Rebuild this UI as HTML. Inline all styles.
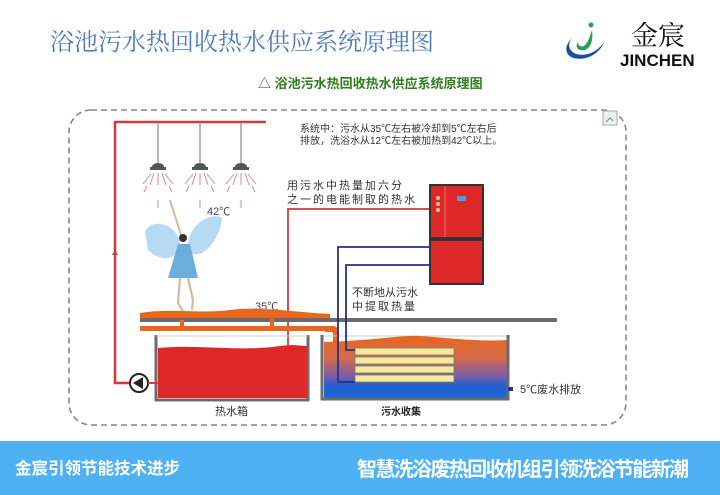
<!DOCTYPE html>
<html><head><meta charset="utf-8"><style>
html,body{margin:0;padding:0;background:#fff;}
body{width:720px;height:495px;overflow:hidden;position:relative;font-family:"Liberation Sans","Noto Sans CJK SC",sans-serif;}
svg{position:absolute;left:0;top:0;}
</style></head><body>
<svg width="720" height="495" viewBox="0 0 720 495" xmlns="http://www.w3.org/2000/svg">
<defs>
<linearGradient id="sw" x1="0" y1="0" x2="0" y2="1">
<stop offset="0" stop-color="#e8661e"/><stop offset="0.35" stop-color="#d66a4a"/><stop offset="0.65" stop-color="#7a5fa8"/><stop offset="0.8" stop-color="#1f5fd0"/><stop offset="1" stop-color="#1a6ad8"/>
</linearGradient>
</defs>
<text x="50" y="50" font-family="Liberation Serif,Noto Serif CJK SC,serif" font-size="24" fill="#4f7cbf">浴池污水热回收热水供应系统原理图</text>
<text x="258" y="88" font-size="13" font-weight="bold" fill="#2f7d1f">△ 浴池污水热回收热水供应系统原理图</text>
<!-- logo -->
<path d="M592 30 C594 44 588 52 580 50 C576 49 576 45 578 42 C578 46 582 48 585 45 C589 41 590 35 592 30Z" fill="#2aa050"/>
<circle cx="591" cy="25" r="2.5" fill="#2aa050"/>
<path d="M572 38 C560 50 568 62 586 58 C596 55 602 48 604 42 C598 52 584 58 574 53 C568 49 568 43 572 38Z" fill="#1a4fa0"/>
<text x="631" y="45" font-family="Liberation Serif,Noto Serif CJK SC,serif" font-size="27" fill="#111">金宸</text>
<text x="620" y="66" font-size="17" font-weight="bold" fill="#111">JINCHEN</text>
<rect x="69" y="110" width="557" height="315" rx="22" fill="none" stroke="#888" stroke-width="1.6" stroke-dasharray="6,4"/>
<rect x="603" y="111" width="14" height="14" fill="#eee" stroke="#aaa" stroke-width="1"/>
<path d="M606 122 l4-4 l3 3" stroke="#4a9" fill="none"/>
<polyline points="266,122 115,122 115,383 130,383" fill="none" stroke="#d23a3a" stroke-width="2.5"/>
<path d="M115 250 l-3 5 h6z" fill="#d23a3a"/>
<g stroke="#888" stroke-width="1.2">
<line x1="158" y1="122" x2="158" y2="163"/><line x1="200" y1="122" x2="200" y2="163"/><line x1="241" y1="122" x2="241" y2="163"/>
</g>
<g fill="#555">
<path d="M152 167 a6 4 0 0 1 12 0z"/><rect x="150" y="167" width="16" height="3"/>
<path d="M194 167 a6 4 0 0 1 12 0z"/><rect x="192" y="167" width="16" height="3"/>
<path d="M235 167 a6 4 0 0 1 12 0z"/><rect x="233" y="167" width="16" height="3"/>
</g>
<g stroke="#e08a8a" stroke-width="1">
<path d="M158 173v12M154 173l-4 12M162 173l4 12M151 174l-8 10M165 174l8 10M147 186l-3 6M169 186l3 6M158 200v8"/>
<path d="M200 173v12M196 173l-4 12M204 173l4 12M193 174l-8 10M207 174l8 10M189 186l-3 6M211 186l3 6M200 200v8"/>
<path d="M241 173v12M237 173l-4 12M245 173l4 12M234 174l-8 10M248 174l8 10M230 186l-3 6M252 186l3 6M241 200v8"/>
</g>
<text x="207" y="215" font-size="11" fill="#444">42℃</text>
<!-- dancer -->
<g>
<path d="M145 232 C150 218 175 222 180 242 C178 262 160 262 148 250Z" fill="#a9d4ef" opacity="0.85"/>
<path d="M188 242 C192 222 212 212 222 218 C220 238 205 258 192 254Z" fill="#a9d4ef" opacity="0.85"/>
<path d="M170 200 l12 38" stroke="#d9b79a" stroke-width="2"/>
<circle cx="183" cy="238" r="4" fill="#333"/>
<path d="M178 244 L190 244 L198 278 L168 278Z" fill="#6aaedc"/>
<path d="M180 278 l-2 25 l6 10 M188 278 l5 22 l-1 10" stroke="#d9b79a" stroke-width="2.2" fill="none"/>
</g>
<text x="255" y="310" font-size="11" fill="#444">35℃</text>
<polyline points="430,209 288,209 288,348" fill="none" stroke="#d23a3a" stroke-width="1.8"/>
<path d="M140 313 C170 308 200 314 230 310 C260 306 290 312 330 314 L330 318 L140 318Z" fill="#e8661e"/>
<rect x="140" y="318" width="417" height="4" fill="#6b6b6b"/>
<rect x="140" y="326" width="190" height="5" fill="#e8661e"/>
<path d="M325 326 h8 a6 6 0 0 1 6 6 v18 h-6 v-16 a2 2 0 0 0 -2 -2 h-6z" fill="#e8661e"/>
<rect x="180" y="320" width="4" height="8" fill="#e8661e"/><rect x="270" y="318" width="4" height="10" fill="#e8661e"/>
<path d="M156 335 V400 H308 V335" fill="none" stroke="#6b6b6b" stroke-width="3"/>
<line x1="156" y1="336" x2="308" y2="336" stroke="#ccc" stroke-width="1"/>
<path d="M158 348 C200 344 240 352 280 346 C295 344 300 346 307 346 V398 H158Z" fill="#de2828"/>
<circle cx="139" cy="383" r="9" fill="#fff" stroke="#222" stroke-width="2"/>
<path d="M133 383 l10 -6 v12z" fill="#222"/>
<line x1="148" y1="383" x2="158" y2="383" stroke="#d23a3a" stroke-width="2"/>
<line x1="322" y1="336" x2="508" y2="336" stroke="#ccc" stroke-width="1"/>
<path d="M324 342 C380 340 400 335 420 336 C450 338 480 342 507 340 V398 H324Z" fill="url(#sw)"/>
<path d="M322 335 V399 H508 V335" fill="none" stroke="#6b6b6b" stroke-width="3"/>
<g fill="#f7e99a" stroke="#777" stroke-width="0.8">
<rect x="355" y="348" width="99" height="7"/><rect x="355" y="357" width="99" height="7"/><rect x="355" y="366" width="99" height="7"/><rect x="355" y="375" width="99" height="7"/>
</g>
<polyline points="430,247 338,247 338,382 355,382" fill="none" stroke="#2a2f8a" stroke-width="1.8"/>
<polyline points="430,265 346,265 346,350 355,350" fill="none" stroke="#2a2f8a" stroke-width="1.8"/>
<rect x="508" y="387" width="5" height="4" fill="#2a2f8a"/>
<rect x="429" y="184" width="55" height="101" fill="#333"/>
<rect x="431" y="186" width="51" height="51" fill="#de2828"/>
<rect x="431" y="241" width="51" height="42" fill="#de2828"/>
<line x1="445" y1="186" x2="445" y2="237" stroke="#f08080" stroke-width="0.8"/>
<rect x="457" y="196" width="9" height="5" fill="#3aa8e8"/>
<circle cx="438" cy="198" r="2" fill="#f3c0a0"/><circle cx="438" cy="204" r="2" fill="#f3c0a0"/><circle cx="438" cy="210" r="2" fill="#f3c0a0"/>
<text font-size="10" fill="#333"><tspan x="300" y="132">系统中：污水从35℃左右被冷却到5℃左右后</tspan><tspan x="300" y="144">排放，洗浴水从12℃左右被加热到42℃以上。</tspan></text>
<text font-size="11" fill="#333" letter-spacing="2"><tspan x="287" y="189">用污水中热量加六分</tspan><tspan x="287" y="203">之一的电能制取的热水</tspan></text>
<text font-size="11" fill="#333"><tspan x="352" y="296">不断地从污水</tspan><tspan x="352" y="310" letter-spacing="2">中提取热量</tspan></text>
<text x="520" y="393" font-size="11" fill="#333">5℃废水排放</text>
<text x="215" y="415" font-size="11" fill="#333">热水箱</text>
<text x="381" y="415" font-size="10" font-weight="bold" fill="#222">污水收集</text>
<rect x="0" y="441" width="720" height="54" fill="#4db1f3"/>
<text x="15" y="474" font-size="16.5" font-weight="bold" fill="#fff">金宸引领节能技术进步</text>
<text x="357" y="476" font-size="20" font-weight="bold" fill="#fff" textLength="332">智慧洗浴废热回收机组引领洗浴节能新潮</text>
</svg>
</body></html>
